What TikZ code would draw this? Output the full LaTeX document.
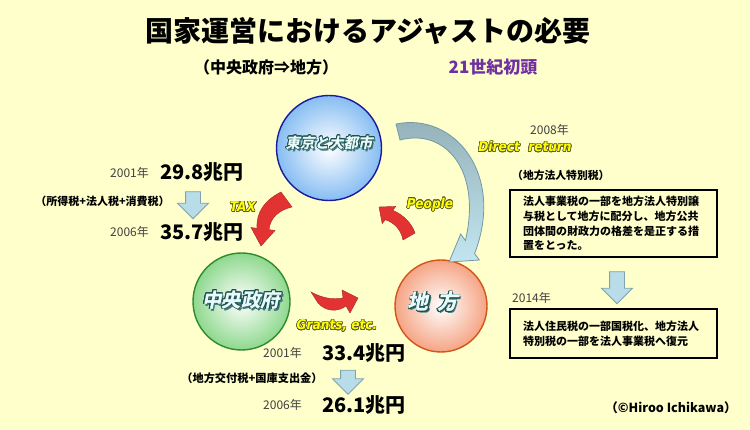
\documentclass[tikz,border=0pt]{standalone}
\usepackage{fontspec}
\setmainfont{Noto Sans CJK JP}
\newfontfamily\tagfont{DejaVu Sans Condensed}
\newfontfamily\ballfont[FakeSlant=0.2]{Noto Sans CJK JP}
\usepackage[copies]{contour}
\contourlength{0.6pt}
\usetikzlibrary{shapes,arrows.meta,positioning,calc}
\definecolor{bgyellow}{HTML}{FFFFCC}
\definecolor{yeargray}{HTML}{404040}
\definecolor{eraviolet}{HTML}{7030A0}
\definecolor{tokyoline}{HTML}{1A1AA0}
\definecolor{tokyofill}{HTML}{86BDF2}
\definecolor{govline}{HTML}{2E8B2E}
\definecolor{govfill}{HTML}{8ED88E}
\definecolor{localline}{HTML}{D2561A}
\definecolor{localfill}{HTML}{F5A484}
\definecolor{flowred}{HTML}{E23232}
\definecolor{returntop}{HTML}{93AFB7}
\definecolor{returnbot}{HTML}{C2E6F0}
\definecolor{returnline}{HTML}{7499A4}
\definecolor{blockblue}{HTML}{B8DCE8}
\definecolor{blockline}{HTML}{7FA2AE}
\definecolor{balltext}{HTML}{E8FAFA}
\definecolor{ballshade}{HTML}{3C7A7A}
\definecolor{balledge}{HTML}{1E5050}
\definecolor{tagyellow}{HTML}{FFFF00}
\definecolor{tagshade}{HTML}{5C5C20}

\begin{document}
\begin{tikzpicture}[x=1pt, y=-1pt,
  ball/.style 2 args={circle, draw=#1, line width=1.4pt, inner color=white, outer color=#2},
  ballback/.style={font=\ballfont\bfseries\fontsize{#1}{#1}\selectfont, text=ballshade},
  ballfront/.style={font=\ballfont\bfseries\fontsize{#1}{#1}\selectfont, text=balltext},
  tag/.style={font=\tagfont\bfseries\itshape\fontsize{13.5}{14}\selectfont, text=tagyellow},
  flow/.style={fill=flowred, draw=flowred!75!black, line width=0.4pt},
  returnarrow/.style={top color=returntop, bottom color=returnbot, draw=returnline, line width=0.8pt},
  downarrow/.style={single arrow, draw=blockline, fill=blockblue, line width=0.8pt, rotate=-90,
    minimum height=#1, minimum width=30pt, single arrow head extend=8pt, inner xsep=0pt, inner ysep=7pt},
  year/.style={font=\fontsize{12}{14}\selectfont, text=yeargray, anchor=west, inner sep=0pt},
  amount/.style={font=\bfseries\fontsize{20}{22}\selectfont, anchor=west, inner sep=0pt},
  note/.style={font=\bfseries\fontsize{#1}{12}\selectfont, inner sep=0pt},
  notebox/.style={draw, line width=1.2pt, fill=bgyellow, text width=181pt, inner xsep=13pt,
    align=left, minimum height=#1, font=\bfseries\fontsize{11}{14.7}\selectfont}
]
  \fill[bgyellow] (0,0) rectangle (750,430);
  \useasboundingbox (0,0) rectangle (750,430);

  % heading
  \node[font=\bfseries\fontsize{28}{30}\selectfont] (title) at (368,31) {国家運営におけるアジャストの必要};
  \node[font=\bfseries\fontsize{16}{18}\selectfont] (subtitle) at (266,67) {（中央政府⇒地方）};
  \node[font=\bfseries\fontsize{17}{18}\selectfont, text=eraviolet] (era) at (493,67) {21世紀初頭};

  % the three balls
  \node[ball={tokyoline}{tokyofill}, minimum size=105pt] (tokyo) at (329,148) {};
  \node[ball={govline}{govfill}, minimum size=97pt] (gov) at (241.5,301.5) {};
  \node[ball={localline}{localfill}, minimum size=92pt] (local) at (441,306) {};

  \node[ballback=14.5] (tokyo-sh) at (330.6,144.6) {東京と大都市};
  \node[ballfront=14.5] (tokyo-lb) at (329,143) {\contour{balledge}{東京と大都市}};
  \node[ballback=19.5] (gov-sh) at (242.8,301.8) {中央政府};
  \node[ballfront=19.5] (gov-lb) at (241,300) {\contour{balledge}{中央政府}};
  \node[ballback=21] (local-sh) at (434.8,303.8) {地\hspace{0.4em}方};
  \node[ballfront=21] (local-lb) at (433,302) {\contour{balledge}{地}\hspace{0.4em}\contour{balledge}{方}};

  % money flows
  \draw[flow] (281,192) .. controls (265,200) and (256,212) .. (257,228.3) -- (251,227.5) -- (261,246)
    -- (275,230.5) -- (269,229.7) .. controls (270,218) and (279,210) .. (292,207) -- cycle;
  \draw[flow] (379,207) -- (395.8,206.4) -- (392.7,210.3) .. controls (404,215) and (412,224) .. (415,233)
    -- (403,240) .. controls (401,230) and (395,223) .. (385.3,219.7) -- (382.2,223.6) -- cycle;
  \draw[flow] (311,292) .. controls (322,298) and (333,300) .. (343,298) -- (342,290) -- (358,298)
    -- (350,313) -- (346,306) .. controls (338,312) and (326,312) .. (318,303) -- cycle;
  \draw[returnarrow] (396,124) .. controls (455,112) and (505,175) .. (474.6,253.5) -- (479.3,260)
    -- (449,262) -- (460.7,234) -- (465.4,240.5) .. controls (482,170) and (445,128) .. (400,140) -- cycle;

  \node[tag] (tax) at (243,207) {\contour{tagshade}{TAX}};
  \node[tag] (people) at (430,205) {\contour{tagshade}{People}};
  \node[tag] (grants) at (337,326) {\contour{tagshade}{Grants, etc.}};
  \node[tag] (direct) at (525,147) {\contour{tagshade}{Direct\ \ return}};

  % national taxes
  \node[year] (y2001a) at (110,173) {2001年};
  \node[amount] (amt2001a) at (160,172) {29.8兆円};
  \node[note=11] (taxnote) at (102.5,201) {（所得税+法人税+消費税）};
  \node[downarrow=27pt] (taxdown) at (193,201.5) {};
  \node[year] (y2006a) at (110,232) {2006年};
  \node[amount] (amt2006a) at (160,232) {35.7兆円};

  % transfers to local
  \node[year] (y2001b) at (263,353) {2001年};
  \node[amount] (amt2001b) at (322,353) {33.4兆円};
  \node[note=11.2] (grantnote) at (252,378) {（地方交付税+国庫支出金）};
  \node[downarrow=24pt] (grantdown) at (348,378.5) {};
  \node[year] (y2006b) at (263,405) {2006年};
  \node[amount] (amt2006b) at (322,405) {26.1兆円};

  % direct return
  \node[year] (y2008) at (530,130) {2008年};
  \node[note=10.8, anchor=west] (localnote) at (512,175) {（地方法人特別税）};
  \node[notebox=67pt] (box2008) at (613.5,223.5) {法人事業税の一部を地方法人特別譲\\与税として地方に配分し、地方公共\\団体間の財政力の格差を是正する措\\置をとった。};
  \node[downarrow=32pt] (boxdown) at (617,284) {};
  \node[year] (y2014) at (512,298) {2014年};
  \node[notebox=49pt] (box2014) at (613.5,333.5) {法人住民税の一部国税化、地方法人\\特別税の一部を法人事業税へ復元};

  \node[font=\bfseries\fontsize{12.5}{14}\selectfont] (credit) at (671,408) {（©Hiroo Ichikawa）};
\end{tikzpicture}
\end{document}
